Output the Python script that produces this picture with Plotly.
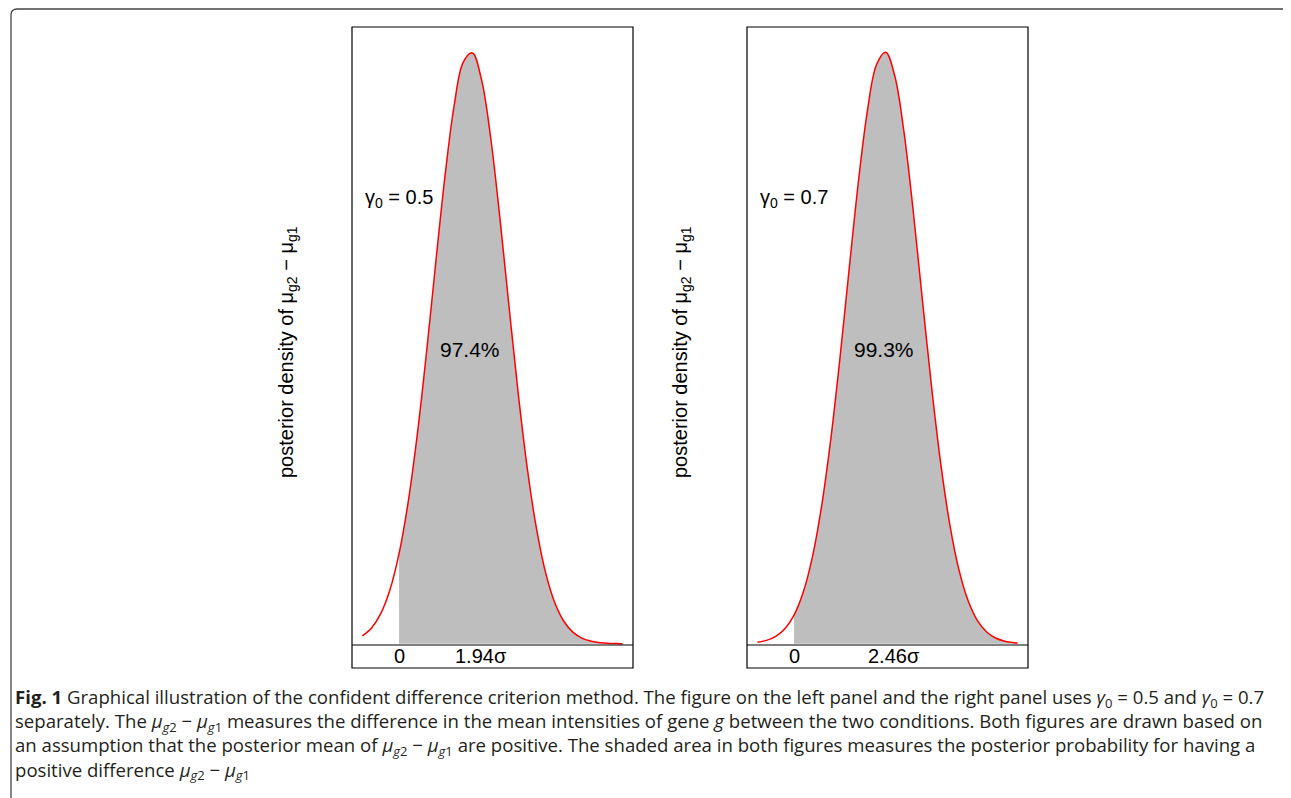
import plotly.graph_objects as go

W, H = 1291, 798
OFF = 8  # default page body margin
WF, HF = W - OFF, H - OFF

# ---- data (relative posterior density, sigma units) ----
x_grid = [-1.00, -0.75, -0.50, -0.25, 0.00, 0.25, 0.50, 0.75, 1.00, 1.25, 1.50, 1.75,
          2.00, 2.25, 2.50, 2.75, 3.00, 3.25, 3.50, 3.75, 4.00, 4.25, 4.50, 4.75,
          5.00, 5.25, 5.50, 5.75, 6.00, 6.10]
dens_left = [0.0133, 0.0268, 0.0509, 0.0909, 0.1523, 0.2398, 0.3546, 0.4926, 0.6429,
             0.7881, 0.9077, 0.9821, 0.9982, 0.9531, 0.8549, 0.7203, 0.5702, 0.4240,
             0.2962, 0.1944, 0.1198, 0.0694, 0.0377, 0.0193, 0.0093, 0.0042, 0.0018,
             0.0007, 0.0003, 0.0002]
dens_right = [0.0025, 0.0058, 0.0125, 0.0254, 0.0485, 0.0870, 0.1465, 0.2318, 0.3445,
              0.4809, 0.6308, 0.7772, 0.8996, 0.9782, 0.9992, 0.9588, 0.8643, 0.7320,
              0.5823, 0.4352, 0.3055, 0.2015, 0.1248, 0.0727, 0.0397, 0.0204, 0.0098,
              0.0045, 0.0019, 0.0013]
gamma_labels = ["0.5", "0.7"]
prob_labels = ["97.4%", "99.3%"]
mean_labels = ["1.94", "2.46"]
means = [1.94, 2.46]

def X(px):
    return (px - OFF) / WF

def Y(py):
    return 1 - (py - OFF) / HF

fig = go.Figure()

panels = [
    dict(dens=dens_left, x0=352, x1=633, ax="", mean_left=453, ylab_x=287),
    dict(dens=dens_right, x0=747, x1=1028, ax="2", mean_left=866, ylab_x=681),
]

XR = [-1.284, 6.384]
YR = [-0.002, 1.042]
top, plot_bottom, box_bottom = 27, 645, 668

shapes = []
annotations = []
for i, p in enumerate(panels):
    xa = "x" + p["ax"]
    ya = "y" + p["ax"]
    xs_fill = [x for x in x_grid if x >= 0]
    ys_fill = [d for x, d in zip(x_grid, p["dens"]) if x >= 0]
    fig.add_trace(go.Scatter(x=xs_fill, y=ys_fill, mode="lines", fill="tozeroy",
                             fillcolor="#BEBEBE", line=dict(width=0, shape="spline"),
                             xaxis=xa, yaxis=ya, showlegend=False, hoverinfo="skip"))
    fig.add_trace(go.Scatter(x=x_grid, y=p["dens"], mode="lines",
                             line=dict(color="#FF0000", width=1.5, shape="spline"),
                             xaxis=xa, yaxis=ya, showlegend=False))
    dom = [X(p["x0"]), X(p["x1"])]
    key = p["ax"]
    fig.update_layout(**{
        "xaxis" + key: dict(domain=dom, range=XR, visible=False, anchor=ya),
        "yaxis" + key: dict(domain=[Y(plot_bottom), Y(top)], range=YR, visible=False, anchor=xa),
    })
    shapes.append(dict(type="rect", xref="paper", yref="paper",
                       x0=X(p["x0"]), x1=X(p["x1"]), y0=Y(box_bottom), y1=Y(top),
                       line=dict(color="black", width=1.2)))
    shapes.append(dict(type="line", xref="paper", yref="paper",
                       x0=X(p["x0"]), x1=X(p["x1"]), y0=Y(plot_bottom), y1=Y(plot_bottom),
                       line=dict(color="black", width=1.2)))
    f = dict(family="Liberation Sans, Arial", size=20, color="black")
    annotations.append(dict(xref=xa, yref="paper", x=0, y=Y(656), text="0",
                            showarrow=False, font=f, xanchor="center", yanchor="middle"))
    annotations.append(dict(xref="paper", yref="paper", x=X(p["mean_left"]), y=Y(656),
                            text=mean_labels[i] + "σ", showarrow=False, font=f,
                            xanchor="left", yanchor="middle"))
    annotations.append(dict(xref="paper", yref="paper", x=X(p["x0"] + 11), y=Y(199),
                            text="γ<sub>0</sub> = " + gamma_labels[i], showarrow=False,
                            font=f, xanchor="left", yanchor="middle"))
    annotations.append(dict(xref=xa, yref="paper", x=means[i], y=Y(349),
                            text=prob_labels[i], showarrow=False,
                            font=dict(family="Liberation Sans, Arial", size=21, color="black"),
                            xanchor="center", yanchor="middle"))
    annotations.append(dict(xref="paper", yref="paper", x=X(p["ylab_x"]), y=Y(352),
                            text="posterior density of μ<sub>g2</sub> − μ<sub>g1</sub>",
                            textangle=-90, showarrow=False, font=f,
                            xanchor="center", yanchor="middle"))

# outer frame (rounded top-left corner)
shapes.append(dict(type="path", xref="paper", yref="paper",
                   path=f"M {X(11)},{Y(800)} L {X(11)},{Y(15)} Q {X(11)},{Y(9)} {X(17)},{Y(9)} L {X(1295)},{Y(9)}",
                   line=dict(color="#444444", width=1.3)))

mu2 = "<i>μ</i><sub><i>g</i>2</sub>"
mu1 = "<i>μ</i><sub><i>g</i>1</sub>"
g0 = "<i>γ</i><sub>0</sub>"
caption = [
    f"<b>Fig. 1</b> Graphical illustration of the confident difference criterion method. The figure on the left panel and the right panel uses {g0} = 0.5 and {g0} = 0.7",
    f"separately. The {mu2} − {mu1} measures the difference in the mean intensities of gene <i>g</i> between the two conditions. Both figures are drawn based on",
    f"an assumption that the posterior mean of {mu2} − {mu1} are positive. The shaded area in both figures measures the posterior probability for having a",
    f"positive difference {mu2} − {mu1}",
]
annotations.append(dict(xref="paper", yref="paper", x=X(12.5), y=Y(734), text="<br>".join(caption),
                        showarrow=False, xanchor="left", yanchor="middle", align="left",
                        font=dict(family="Open Sans, Lato", size=18.6, color="#231F20")))

fig.update_layout(width=WF, height=HF, margin=dict(l=0, r=0, t=0, b=0),
                  paper_bgcolor="white", plot_bgcolor="white",
                  shapes=shapes, annotations=annotations, showlegend=False)

fig.write_html("out.html")
